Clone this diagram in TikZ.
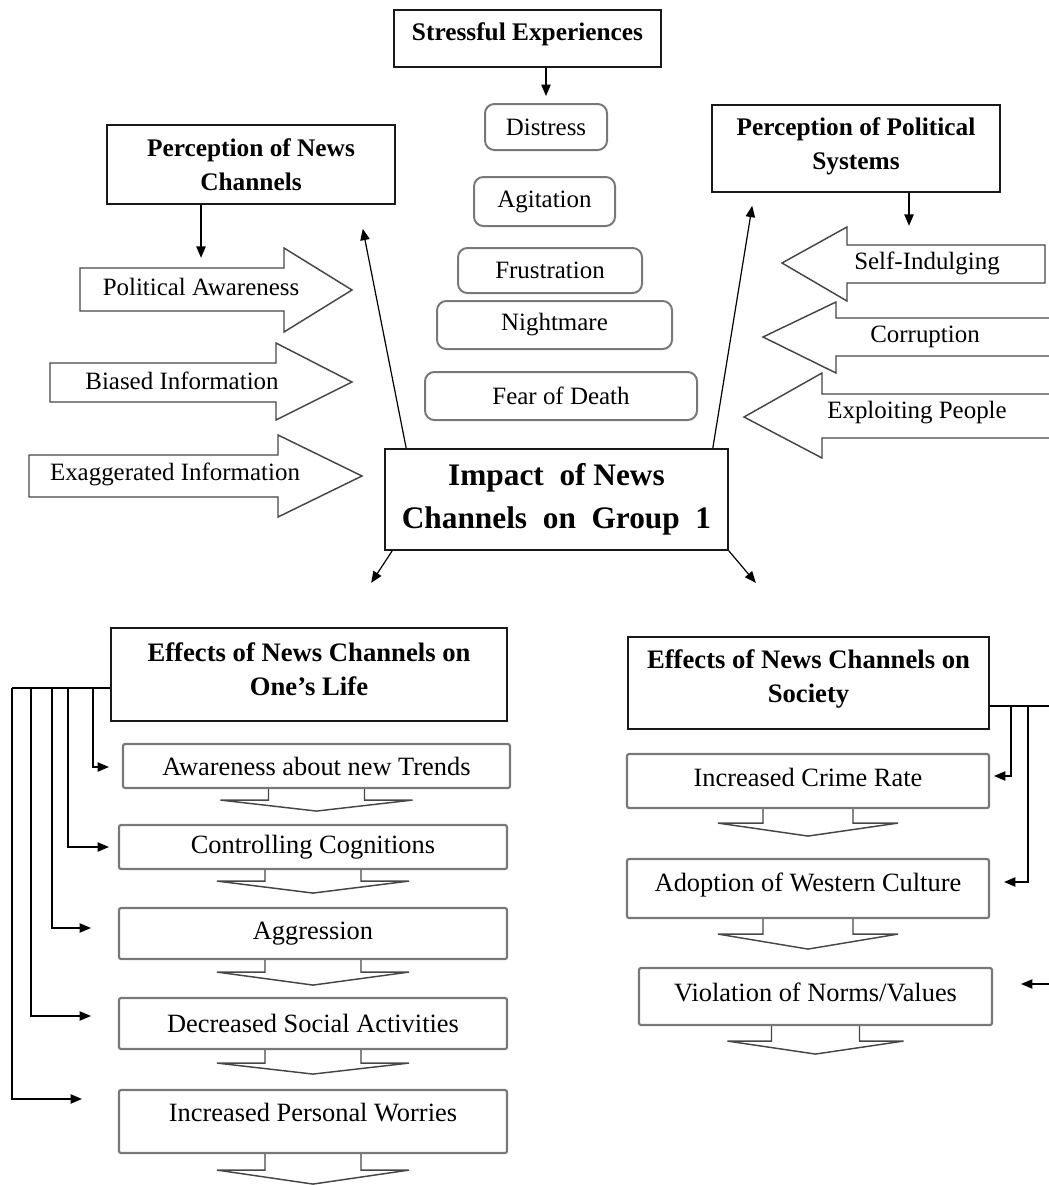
\documentclass[tikz,border=0pt]{standalone}
\usepackage{fontspec}
\setmainfont{Liberation Serif}
\usetikzlibrary{arrows.meta,calc}
\definecolor{nwline}{RGB}{25,25,25}
\definecolor{nwgray}{RGB}{120,120,120}
\definecolor{nwshape}{RGB}{70,70,70}
\tikzset{
  sz/.style 2 args={minimum width=#1*0.75pt, minimum height=#2*0.75pt},
  hdfont/.style={font=\bfseries\fontsize{19}{25.5}\selectfont},
  effont/.style={font=\bfseries\fontsize{20}{25.5}\selectfont},
  itfont/.style={font=\fontsize{19.8}{24}\selectfont},
  hdtxt/.style={hdfont, align=center, inner sep=0pt},
  eftxt/.style={effont, align=center, inner sep=0pt},
  ittxt/.style={itfont, inner sep=0pt},
  hdbox/.style={draw=nwline, line width=1.2pt, inner sep=0pt, align=center, hdfont},
  efbox/.style={hdbox, effont},
  impbox/.style={hdbox, font=\bfseries\fontsize{23.5}{32}\selectfont},
  stbox/.style={draw=nwgray, line width=1.5pt, rounded corners=7pt, inner sep=0pt,
    font=\fontsize{18.7}{22}\selectfont},
  itbox/.style={draw=nwgray, line width=1.6pt, rounded corners=1.5pt, inner sep=0pt, itfont},
  blk/.style={draw=nwshape, line width=1.1pt, fill=white, line join=miter},
  blktxt/.style={inner sep=0pt, font=\fontsize{18.7}{22}\selectfont},
  arr/.style={-{Triangle[length=8.5pt,width=7pt]}, draw=black, line width=0.9pt},
  lnk/.style={draw=black, line width=0.9pt}
}
\begin{document}
\begin{tikzpicture}[x=0.75pt, y=-0.75pt]
  \useasboundingbox (0,0) rectangle (1049,1185);
  \clip (0,0) rectangle (1049,1185);

  % stressful experiences
  \node[hdbox, sz={267}{57}, label={[hdtxt, yshift=3.1pt]center:Stressful Experiences}] (se) at (527.5,38.5) {};
  \node[stbox, sz={122}{46}] (dist) at (546,127) {Distress};
  \node[stbox, sz={141}{49}] (agit) at (544.5,201.5) {Agitation};
  \node[stbox, sz={184}{45}] (frus) at (550,270.5) {Frustration};
  \node[stbox, sz={235}{48}] (nigh) at (554.5,325) {Nightmare};
  \node[stbox, sz={272}{48}] (fear) at (561,396) {Fear of Death};

  % perceptions
  \node[hdbox, sz={288}{79}] (pnc) at (251,164.5) {Perception of News\\Channels};
  \node[hdbox, sz={288}{87}, label={[hdtxt, yshift=2pt]center:Perception of Political\\Systems}] (pps) at (856,148.5) {};

  % block arrows, left
  \draw[blk] (80,268) -- (284,268) -- (284,248) -- (352,290) -- (284,332) -- (284,311) -- (80,311) -- cycle;
  \draw[blk] (50,363) -- (276,363) -- (276,343) -- (352,382) -- (276,420) -- (276,402) -- (50,402) -- cycle;
  \draw[blk] (29,455) -- (278,455) -- (278,435) -- (362,476) -- (278,517) -- (278,497) -- (29,497) -- cycle;
  \node[blktxt] (pa) at (201,287) {Political Awareness};
  \node[blktxt] (bi) at (182,381) {Biased Information};
  \node[blktxt] (ei) at (175,474) {Exaggerated Information};

  % block arrows, right
  \draw[blk] (1045,245) -- (847,245) -- (847,227) -- (782,263) -- (847,301) -- (847,283) -- (1045,283) -- cycle;
  \draw[blk] (1070,318) -- (836,318) -- (836,302) -- (763,337) -- (836,373) -- (836,356) -- (1070,356) -- cycle;
  \draw[blk] (1070,394) -- (822,394) -- (822,373) -- (744,417) -- (822,458) -- (822,438) -- (1070,438) -- cycle;
  \node[blktxt] (si) at (927,263) {Self-Indulging};
  \node[blktxt] (co) at (925,337) {Corruption};
  \node[blktxt] (ep) at (917,413) {Exploiting People};

  % centre
  \node[impbox, sz={343}{101}] (imp) at (556.5,499.5) {Impact~ of News\\Channels~ on~ Group~ 1};

  % effects on one's life
  \node[efbox, sz={396}{93}, label={[eftxt, yshift=4.3pt]center:Effects of News Channels on\\One's Life}] (lf) at (309,674.5) {};
  \node[itbox, sz={387}{44}] (aw) at (316.5,766) {Awareness about new Trends};
  \node[itbox, sz={388}{44}] (cc) at (313,847) {Controlling Cognitions};
  \node[itbox, sz={388}{51}] (aggr) at (313,933.5) {Aggression};
  \node[itbox, sz={388}{51}] (dsa) at (313,1023.5) {Decreased Social Activities};
  \node[itbox, sz={388}{63}, label={[ittxt, yshift=6.4pt]center:Increased Personal Worries}] (ipw) at (313,1121.5) {};

  % effects on society
  \node[efbox, sz={361}{92}, label={[eftxt, yshift=3.1pt]center:Effects of News Channels on\\Society}] (soc) at (808.5,683) {};
  \node[itbox, sz={362}{54}, label={[ittxt, yshift=3pt]center:Increased Crime Rate}] (icr) at (808,781) {};
  \node[itbox, sz={362}{59}, label={[ittxt, yshift=2.3pt]center:Adoption of Western Culture}] (awc) at (808,888.5) {};
  \node[itbox, sz={353}{57}, label={[ittxt, yshift=3.4pt]center:Violation of Norms/Values}] (vnv) at (815.5,996.5) {};

  % down arrows under the boxes
  \foreach \n/\bw/\hw/\sd/\td in {aw/48/96/11/22, cc/48/96/11/23, aggr/48/96/12/25, dsa/48/96/13/24,
      ipw/48/96/16/30, icr/45/90/14/27, awc/45/90/15/30, vnv/44/88/15/28}
    \draw[blk, fill=none] ($(\n.south)+(-\bw,0)$) -- ++(0,\sd) -- ($(\n.south)+(-\hw,\sd)$)
      -- ($(\n.south)+(0,\td)$) -- ($(\n.south)+(\hw,\sd)$) -- ($(\n.south)+(\bw,\sd)$) -- ++(0,-\sd);

  % connectors
  \draw[arr] (se.south -| dist.north) -- ([yshift=5.25pt]dist.north);
  \draw[arr] (pnc.south -| pa.north) -- ++(0,53);
  \draw[arr] ([shift={(53,0)}]pps.south) -- ++(0,33);
  \draw[arr] ([shift={(22,0)}]imp.north west) -- ($(pnc.south east)+(-33,24)$);
  \draw[arr] ([shift={(-16,0)}]imp.north east) -- ($(pps.south west)+(41,13)$);
  \draw[arr] ([shift={(8,0)}]imp.south west) -- ++(-21,32);
  \draw[arr] (imp.south east) -- ++(27,32);

  \coordinate (lf-out) at ($(lf.west)+(0,13.5)$);
  \draw[lnk] (lf-out) -- (12,0 |- lf-out);
  \foreach \x/\n/\dy/\gap in {93/aw/1/13, 68/cc/0/9, 52/aggr/-5.5/27, 31/dsa/-7.5/27, 12/ipw/-22.5/36}
    \draw[arr] (\x,0 |- lf-out) |- ([shift={(-\gap,\dy)}]\n.west);

  \coordinate (soc-out) at ($(soc.east)+(0,23)$);
  \draw[lnk] (soc-out) -- ++(80,0);
  \foreach \x/\n/\dy/\gap in {1011/icr/-5/4, 1028/awc/-6.5/14, 1062/vnv/-12.5/28}
    \draw[arr] (\x,0 |- soc-out) |- ([shift={(\gap,\dy)}]\n.east);
\end{tikzpicture}
\end{document}
